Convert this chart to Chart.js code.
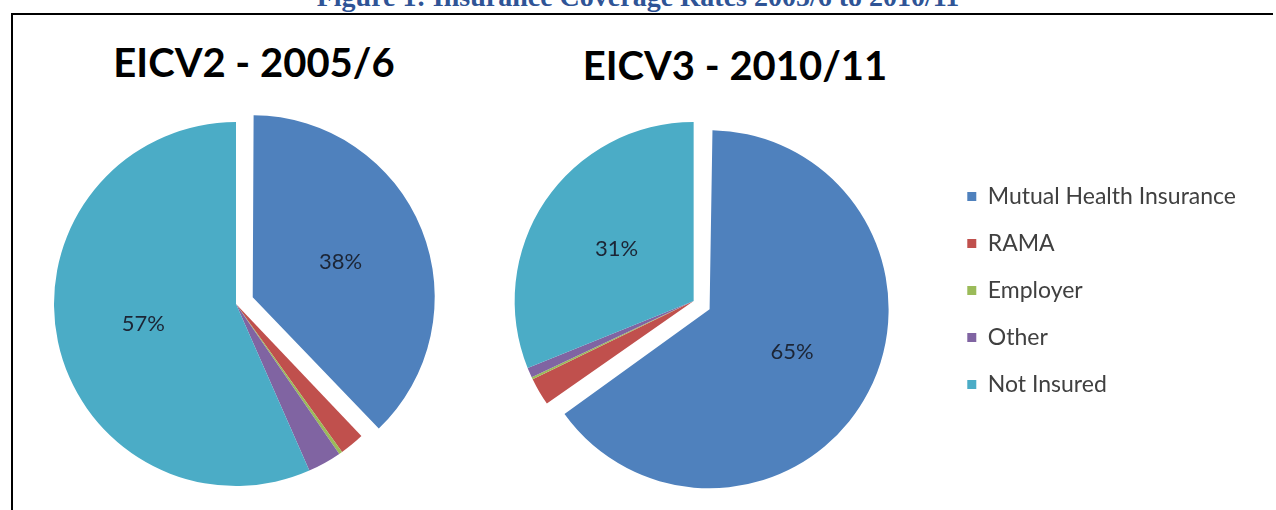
<!DOCTYPE html>
<html>
<head>
<meta charset="utf-8">
<script src="https://cdn.jsdelivr.net/npm/chart.js@4/dist/chart.umd.min.js"></script>
<style>
  html, body { margin: 0; padding: 0; background: #fff; }
  body { width: 1276px; height: 510px; overflow: hidden; position: relative; font-family: Lato, sans-serif; }
  #caption { position: absolute; left: 0; top: -17px; width: 1276px; text-align: center; white-space: nowrap;
             font: bold 28px/28px "Liberation Serif", serif; color: #2f5496; }
  #frame { position: absolute; left: 11px; top: 13px; width: 1260px; height: 520px;
           border-top: 2px solid #000; border-left: 2px solid #000; }
  .pie-title { position: absolute; transform: translateX(-50%); white-space: nowrap;
               font: bold 40px/40px Lato, sans-serif; color: #000; }
  canvas { position: absolute; top: 0; }
</style>
</head>
<body>
<div id="caption">Figure 1: Insurance Coverage Rates 2005/6 to 2010/11</div>
<div id="frame"></div>
<div class="pie-title" style="left:254px; top:42px">EICV2 - 2005/6</div>
<div class="pie-title" style="left:735px; top:45px">EICV3 - 2010/11</div>
<canvas id="pie1" width="472" height="510" style="left:0"></canvas>
<canvas id="pie2" width="832" height="510" style="left:444px"></canvas>
<script>
const categories = ["Mutual Health Insurance", "RAMA", "Employer", "Other", "Not Insured"];
const eicv2Values = [37.9, 2.2, 0.3, 3.0, 56.6];
const eicv3Values = [65.3, 2.5, 0.2, 0.9, 31.1];
const colors = ["#4f81bd", "#c0504d", "#9bbb59", "#8064a2", "#4bacc6"];
const explode = [72, 0, 0, 0, 0];

// excel keeps an exploded slice at the same radius, chart.js makes it bigger -> undo that
const Arc = Chart.ArcElement || Chart.elements.ArcElement;
const arcDraw = Arc.prototype.draw;
Arc.prototype.draw = function (ctx) {
  const off = (this.options.offset || 0) / 4;
  const grow = off * (1 - Math.sin(Math.min(Math.PI, this.circumference || 0)));
  const r = this.outerRadius;
  this.outerRadius = r - grow;
  arcDraw.call(this, ctx);
  this.outerRadius = r;
};

// percent labels inside the big slices
const pctLabels = {
  id: "pctLabels",
  afterDatasetsDraw(chart) {
    const ctx = chart.ctx;
    const ds = chart.data.datasets[0];
    const total = ds.data.reduce((a, b) => a + b, 0);
    chart.getDatasetMeta(0).data.forEach((arc, i) => {
      const pct = ds.data[i] / total * 100;
      if (pct < 10) return;
      const mid = (arc.startAngle + arc.endAngle) / 2;
      const d = (arc.options.offset || 0) / 4 + arc.outerRadius * 0.52;
      ctx.save();
      ctx.font = "22px Lato";
      ctx.fillStyle = "#1c2535";
      ctx.textAlign = "center";
      ctx.textBaseline = "middle";
      ctx.fillText(Math.round(pct) + "%", arc.x + Math.cos(mid) * d, arc.y + Math.sin(mid) * d);
      ctx.restore();
    });
  }
};

new Chart(document.getElementById("pie1"), {
  type: "pie",
  data: {
    labels: categories,
    datasets: [{ data: eicv2Values, backgroundColor: colors, borderWidth: 0, offset: explode, radius: 182 }]
  },
  options: {
    responsive: false,
    animation: false,
    layout: { padding: { top: 98 } },
    plugins: { legend: { display: false }, tooltip: { enabled: false } }
  },
  plugins: [pctLabels]
});

new Chart(document.getElementById("pie2"), {
  type: "pie",
  data: {
    labels: categories,
    datasets: [{ data: eicv3Values, backgroundColor: colors, borderWidth: 0, offset: explode, radius: 179 }]
  },
  options: {
    responsive: false,
    animation: false,
    layout: { padding: { top: 161, bottom: 69, right: 30 } },
    plugins: {
      tooltip: { enabled: false },
      legend: {
        position: "right",
        align: "start",
        labels: {
          boxWidth: 9,
          boxHeight: 9,
          padding: 24,
          color: "#404040",
          font: { family: "Lato", size: 23 }
        }
      }
    }
  },
  plugins: [pctLabels]
});
</script>
</body>
</html>
